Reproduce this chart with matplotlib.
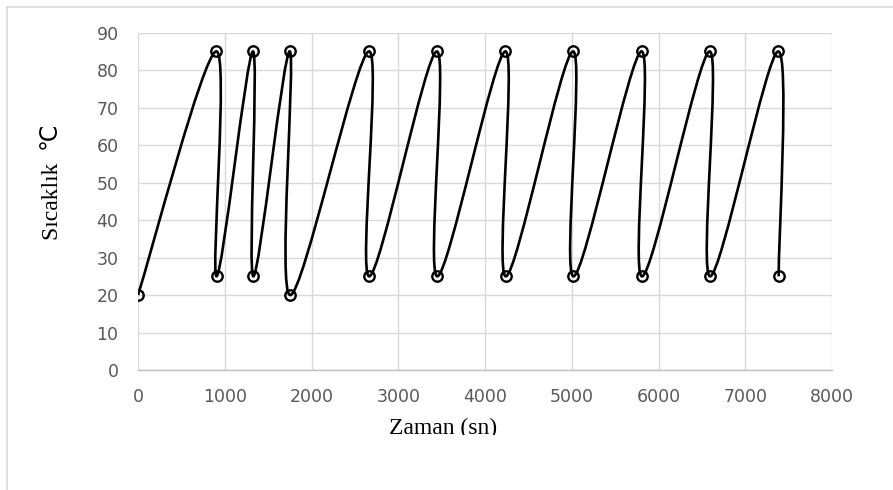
import matplotlib
matplotlib.use("Agg")
import matplotlib.pyplot as plt
from matplotlib.path import Path
from matplotlib.patches import PathPatch
from matplotlib.lines import Line2D
from matplotlib.transforms import Bbox

# zaman (sn) ve sıcaklık (°C) okumaları
zaman = [0, 900, 905, 1325, 1330, 1750, 1755, 2660, 2665, 3445, 3450,
         4235, 4240, 5015, 5020, 5805, 5810, 6590, 6595, 7380, 7385]
sicaklik = [20, 85, 25, 85, 25, 85, 20, 85, 25, 85, 25,
            85, 25, 85, 25, 85, 25, 85, 25, 85, 25]

x_ticks = [0, 1000, 2000, 3000, 4000, 5000, 6000, 7000, 8000]
y_ticks = [0, 10, 20, 30, 40, 50, 60, 70, 80, 90]

W, H = 893, 490
fig = plt.figure(figsize=(W / 100, H / 100), dpi=100)
ax = fig.add_axes([138 / W, 1 - 370 / H, (832 - 138) / W, (370 - 32.7) / H])


def excel_smooth(xs, ys):
    # Excel benzeri yumuşatılmış çizgi (Catmull-Rom -> Bezier)
    pts = list(zip(xs, ys))
    n = len(pts)
    verts = [pts[0]]
    codes = [Path.MOVETO]
    for i in range(n - 1):
        p0 = pts[max(i - 1, 0)]
        p1 = pts[i]
        p2 = pts[i + 1]
        p3 = pts[min(i + 2, n - 1)]
        c1 = (p1[0] + (p2[0] - p0[0]) / 6, p1[1] + (p2[1] - p0[1]) / 6)
        c2 = (p2[0] - (p3[0] - p1[0]) / 6, p2[1] - (p3[1] - p1[1]) / 6)
        verts += [c1, c2, p2]
        codes += [Path.CURVE4] * 3
    return Path(verts, codes)


ax.add_patch(PathPatch(excel_smooth(zaman, sicaklik), facecolor="none",
                       edgecolor="black", lw=1.9, zorder=3))
ax.plot(zaman, sicaklik, linestyle="none", marker="o", ms=7.5,
        mfc="none", mec="black", mew=1.7, zorder=4)

ax.set_xlim(0, 8000)
ax.set_ylim(0, 90)
ax.set_xticks(x_ticks)
ax.set_yticks(y_ticks)
ax.grid(True, color="#d9d9d9", lw=1.0)
ax.set_axisbelow(True)
for s in ["top", "right", "left"]:
    ax.spines[s].set_visible(False)
ax.spines["bottom"].set_color("#bfbfbf")
ax.spines["bottom"].set_linewidth(1.0)
ax.tick_params(length=0, labelsize=12.5, labelcolor="#595959")
ax.tick_params(axis="y", pad=14)
ax.tick_params(axis="x", pad=13)

# eksen başlığı alttan kesik görünüyor
xl = fig.text(443.5 / W, 1 - 434 / H, "Zaman (sn)", ha="center", va="baseline",
              family="Liberation Serif", fontsize=17, color="black")
xl.set_clip_box(Bbox.from_extents(0, H - 435, W, H))
xl.set_clip_on(True)

fig.text(52 / W, 1 - 182 / H, "Sıcaklık  ℃", rotation=90, ha="center", va="center",
         family=["Liberation Serif", "DejaVu Sans"], fontsize=17, color="black")

# çerçeve
fig.add_artist(Line2D([7 / W, 7 / W], [0, 1 - 7 / H], color="#d9d9d9", lw=1.2))
fig.add_artist(Line2D([7 / W, 1], [1 - 7 / H, 1 - 7 / H], color="#d9d9d9", lw=1.2))

fig.savefig("out.png", dpi=100)
